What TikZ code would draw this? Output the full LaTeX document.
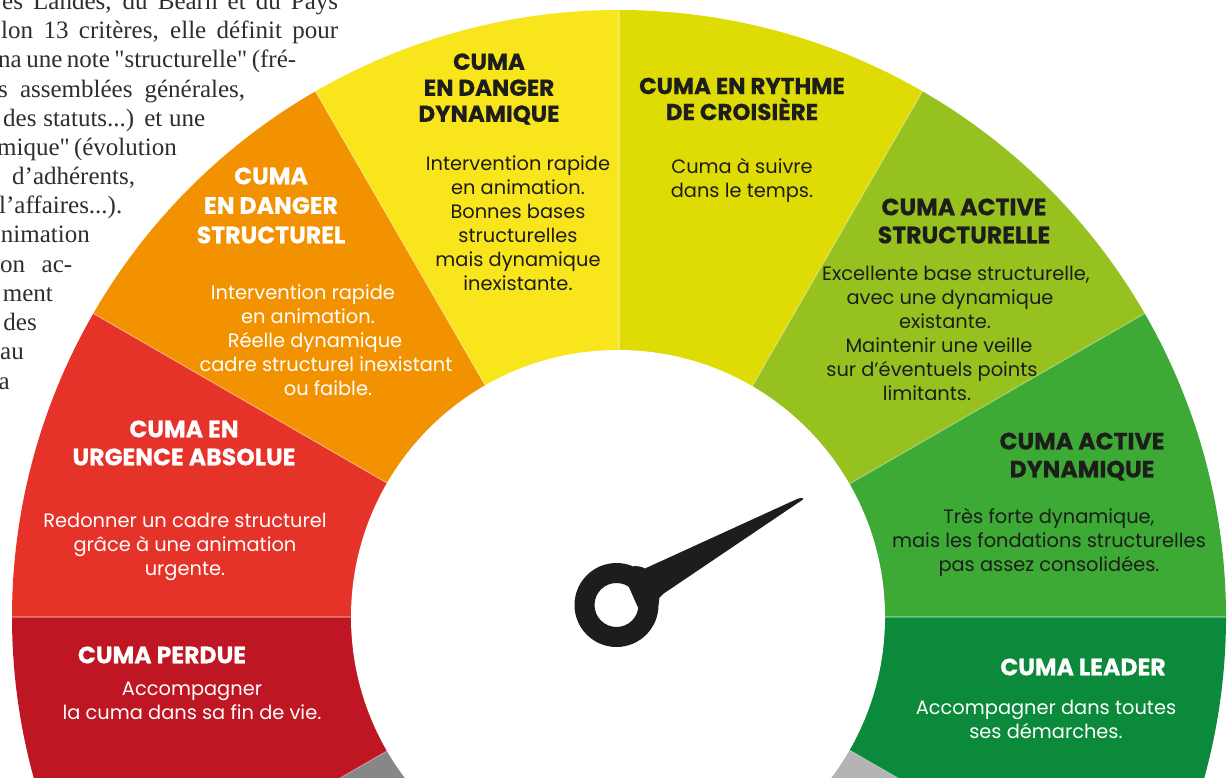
\documentclass[tikz,border=0pt]{standalone}
\usepackage{fontspec}
\setmainfont{Poppins}
\newfontfamily\headfont{Poppins}[BoldFeatures={FakeBold=0.6}]
\newfontfamily\artfont{Liberation Serif}
\definecolor{cPerdue}{HTML}{BE1622}
\definecolor{cUrgence}{HTML}{E6332A}
\definecolor{cOrange}{HTML}{F39200}
\definecolor{cYellow}{HTML}{F9E51B}
\definecolor{cLime}{HTML}{DFDC05}
\definecolor{cYGreen}{HTML}{96C11F}
\definecolor{cGreen}{HTML}{3DAA36}
\definecolor{cDGreen}{HTML}{0A8A3A}
\definecolor{cGreyL}{HTML}{878787}
\definecolor{cGreyR}{HTML}{B4B4B4}
\definecolor{cInk}{HTML}{1D1D1B}
\definecolor{cArt}{HTML}{2E2E2E}
\newcommand\lsh[1]{\hspace*{#1}}
\newcommand\jline[2]{\makebox[#1][s]{#2}}
\newcommand\sector[3]{\fill[#1] (C) -- ++(#2:\R) arc[start angle=#2, end angle=#3, radius=\R] -- cycle;}
\tikzset{
  head/.style={font=\headfont\fontsize{23.6}{28}\selectfont\bfseries, align=center, inner sep=0pt},
  body/.style={font=\fontsize{19.4}{24}\selectfont, align=center, inner sep=0pt},
  art/.style={font=\artfont\fontsize{25}{29}\selectfont, text=cArt, anchor=base west, inner sep=0pt},
  arte/.style={art, anchor=base east},
  sepline/.style={white, opacity=0.3, line width=1.2pt}
}
\begin{document}
\begin{tikzpicture}[x=1pt,y=1pt]
\useasboundingbox (0,0) rectangle (1231,777);
\clip (0,0) rectangle (1231,777);
\fill[white] (0,0) rectangle (1231,777);
% article text (cut at the left edge)
\node[art] (a1) at (2,767.5) {\jline{336pt}{es Landes, du Béarn et du Pays}};
\node[art] (a2) at (1,738) {\jline{337pt}{lon 13 critères, elle définit pour}};
\node[art] (a3) at (-2,709) {\jline{298pt}{na une note "structurelle" (fré-}};
\node[art] (a4) at (-2,679.5) {\jline{247pt}{s assemblées générales,}};
\node[art] (a5) at (3,650) {\jline{202pt}{des statuts...) et une}};
\node[art] (a6) at (-3,621) {\jline{173pt}{mique" (évolution}};
\node[art] (a7) at (12,592) {d’adhérents,};
\node[art] (a8) at (-1,563) {l’affaires...).};
\node[arte] (a9) at (90,534) {nimation};
\node[art] (a10) at (0,504) {\jline{72pt}{on ac-}};
\node[arte] (a11) at (53,475) {ment};
\node[arte] (a12) at (37,446) {des};
\node[arte] (a13) at (24,417) {au};
\node[arte] (a14) at (10,387) {a};
% gauge
\coordinate (C) at (619,160);
\def\R{607}
\sector{cGreyL}{210}{270}
\sector{cGreyR}{270}{330}
\sector{cPerdue}{180}{210}
\sector{cUrgence}{150}{180}
\sector{cOrange}{120}{150}
\sector{cYellow}{90}{120}
\sector{cLime}{60}{90}
\sector{cYGreen}{30}{60}
\sector{cGreen}{0}{30}
\sector{cDGreen}{-30}{0}
\foreach \a in {-30,0,30,60,90,120,150,180,210}{
  \draw[sepline] (C) -- ++(\a:\R);
}
\fill[white] (618,160) circle[radius=267];
% labels
\node[head, text=white] (hPerdue) at (162,122) {CUMA PERDUE};
\node[body, text=white] (bPerdue) at (192,76.5) {Accompagner\\la cuma dans sa fin de vie.};
\node[head, text=white] (hUrg) at (184,334) {CUMA EN\\URGENCE ABSOLUE};
\node[body, text=white] (bUrg) at (185,230) {Redonner un cadre structurel\\grâce à une animation\\urgente.};
\node[head, text=white, font=\headfont\fontsize{23.6}{29.5}\selectfont\bfseries] (hDS) at (271,571.5) {CUMA\\EN DANGER\\STRUCTUREL};
\node[body, text=white] (bDS) at (316,436.4) {\lsh{-26pt}Intervention rapide\\\lsh{-16pt}en animation.\\\lsh{-2pt}Réelle dynamique\\\lsh{20pt}cadre structurel inexistant\\\lsh{24pt}ou faible.};
\node[head, text=cInk, font=\headfont\fontsize{23}{26}\selectfont\bfseries] (hDD) at (489,688) {CUMA\\EN DANGER\\DYNAMIQUE};
\node[body, text=cInk] (bDD) at (518,554) {Intervention rapide\\en animation.\\Bonnes bases\\structurelles\\mais dynamique\\inexistante.};
\node[head, text=cInk, font=\headfont\fontsize{23}{26}\selectfont\bfseries] (hRy) at (742,678) {CUMA EN RYTHME\\DE CROISIÈRE};
\node[body, text=cInk] (bRy) at (742,597) {Cuma à suivre\\dans le temps.};
\node[head, text=cInk] (hAS) at (964,556) {CUMA ACTIVE\\STRUCTURELLE};
\node[body, text=cInk] (bAS) at (941.5,444) {\lsh{29pt}Excellente base structurelle,\\\lsh{17pt}avec une dynamique\\\lsh{7pt}existante.\\\lsh{-5pt}Maintenir une veille\\\lsh{-19pt}sur d’éventuels points\\\lsh{-29pt}limitants.};
\node[head, text=cInk] (hAD) at (1082,320.5) {CUMA ACTIVE\\DYNAMIQUE};
\node[body, text=cInk] (bAD) at (1049,235) {Très forte dynamique,\\mais les fondations structurelles\\pas assez consolidées.};
\node[head, text=white] (hLe) at (1083,110) {CUMA LEADER};
\node[body, text=white] (bLe) at (1046,58) {Accompagner dans toutes\\ses démarches.};
% needle
\fill[cInk, even odd rule] (616.5,172) circle[radius=42] (616.5,172) circle[radius=22];
\fill[cInk] (640,165) -- (658.5,172) -- (659.5,179.5) .. controls (660.5,181.5) and (661.5,182) .. (663,183)
  -- (803,277.5) .. controls (803.8,279.2) and (800.5,279.6) .. (798,278.4)
  -- (645,208.5) .. controls (641,210.5) and (638,211) .. (634,210.8)
  -- (628,192) -- cycle;
\end{tikzpicture}
\end{document}
